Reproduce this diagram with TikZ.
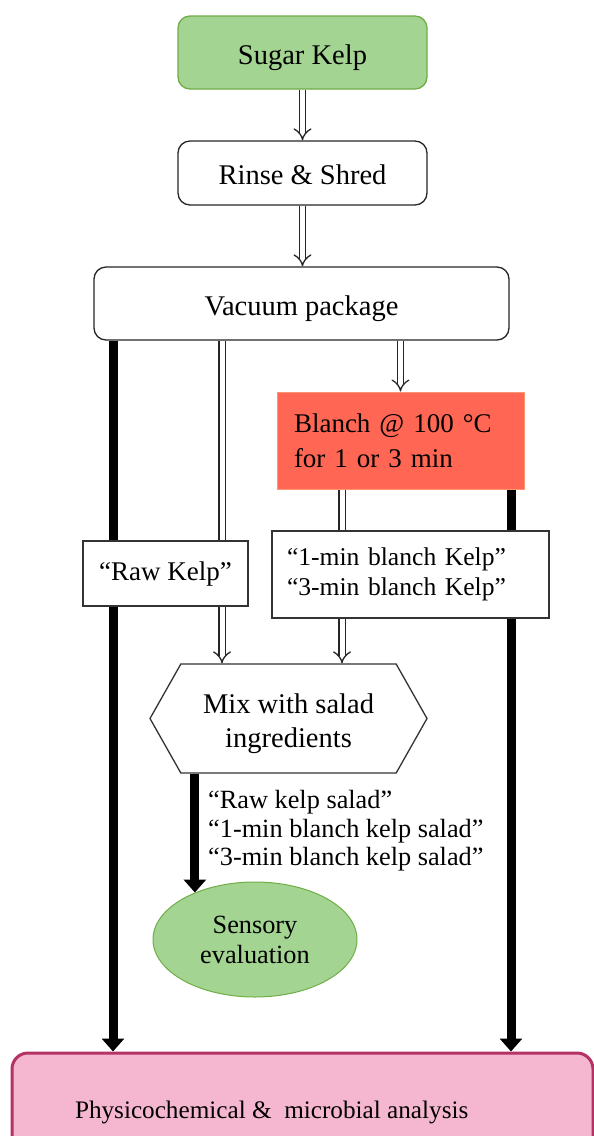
\documentclass[tikz,border=0pt]{standalone}
\usepackage{fontspec}
\setmainfont{Liberation Serif}
\usetikzlibrary{arrows.meta,shapes.geometric,shapes.symbols,backgrounds}

\definecolor{kelpgreen}{RGB}{163,212,146}
\definecolor{kelpedge}{RGB}{112,173,71}
\definecolor{blanchred}{RGB}{255,102,84}
\definecolor{blanchedge}{RGB}{255,150,110}
\definecolor{labpink}{RGB}{245,183,207}
\definecolor{labedge}{RGB}{180,50,100}

\tikzset{
  txt/.style={font=\fontsize{27}{32}\selectfont},
  bigtxt/.style={font=\fontsize{28.5}{34}\selectfont},
  roundbox/.style={bigtxt,draw=black!85,line width=1.3pt,rounded corners=12pt,fill=white,text height=27pt,text depth=4pt},
  flatbox/.style={txt,draw=black!80,line width=1.3pt,fill=white},
  dblarrow/.style={draw=black!85,line width=1.3pt,double=white,double distance=5pt,-{Implies[length=9pt,width=20pt]}},
  bararrow/.style={line width=9pt,-{Triangle[width=22pt,length=13pt]}},
}

\begin{document}
\begin{tikzpicture}[x=1pt,y=-1pt]
	\useasboundingbox (0,0) rectangle (594,1136);
	\clip (0,0) rectangle (594,1136);
	% steps
	\node[roundbox,fill=kelpgreen,draw=kelpedge,minimum width=249pt,minimum height=73pt] (sugar) at (302.5,52.5) {Sugar Kelp};
	\node[roundbox,minimum width=249pt,minimum height=64pt] (rinse) at (302.5,173) {Rinse \& Shred};
	\node[roundbox,minimum width=415pt,minimum height=73pt] (vac) at (301.5,303.5) {Vacuum package};
	\node[txt,fill=blanchred,draw=blanchedge,line width=1pt,text width=213pt,inner xsep=17pt,minimum height=97pt,align=left,font=\fontsize{27}{35}\selectfont] (blanch) at (400.5,440.5) {Blanch @ 100 °C\\for 1 or 3 min};
	\node[flatbox,minimum width=165pt,minimum height=65pt] (raw) at (165.5,573.5) {“Raw Kelp”};
	\node[flatbox,text width=247pt,inner xsep=15pt,minimum height=87pt,align=left,font=\fontsize{25.6}{30}\selectfont] (blanched) at (410.5,574.5) {“1-min blanch Kelp”\\“3-min blanch Kelp”};
	\node[flatbox,signal,signal to=east and west,signal pointer angle=121,minimum width=277pt,minimum height=109pt,align=center,font=\fontsize{28.5}{34}\selectfont,text height=61pt,text depth=4pt] (mix) at (288.5,718.5) {Mix with salad\\ingredients};
	\node[txt,align=left,anchor=west,inner sep=0pt,font=\fontsize{26.3}{28.5}\selectfont] (saladlbl) at (208,831) {“Raw kelp salad”\\“1-min blanch kelp salad”\\“3-min blanch kelp salad”};
	\node[txt,ellipse,fill=kelpgreen,draw=kelpedge,line width=1pt,minimum width=204pt,minimum height=115pt,align=center,inner sep=0pt,font=\fontsize{26.3}{30}\selectfont] (sens) at (255,939.5) {Sensory\\evaluation};
	\node[txt,fill=labpink,draw=labedge,line width=3pt,rounded corners=16pt,inner xsep=63pt,minimum width=581pt,minimum height=118pt,font=\fontsize{25.2}{30}\selectfont] (phys) at (302.5,1112) {\makebox[455pt][l]{Physicochemical \&\ \ microbial analysis}};
	% columns of arrows
	\coordinate (leftx) at (113,0);
	\coordinate (rawx) at (222,0);
	\coordinate (blx) at (342,0);
	\coordinate (rightx) at (511,0);
	\begin{scope}[on background layer]
		\draw[dblarrow] (sugar.south) -- (rinse.north);
		\draw[dblarrow] (rinse.south) -- (rinse.south |- vac.north);
		\draw[dblarrow] (blanch.north |- vac.south) -- (blanch.north);
		\draw[dblarrow] (vac.south -| rawx) -- (mix.north -| rawx);
		\draw[dblarrow] (blanch.south -| blx) -- (mix.north -| blx);
		\draw[bararrow] (vac.south -| leftx) -- (phys.north -| leftx);
		\draw[bararrow] (blanch.south -| rightx) -- (phys.north -| rightx);
		\draw[bararrow] (mix.south -| sens.142) -- (sens.142);
	\end{scope}
\end{tikzpicture}
\end{document}
